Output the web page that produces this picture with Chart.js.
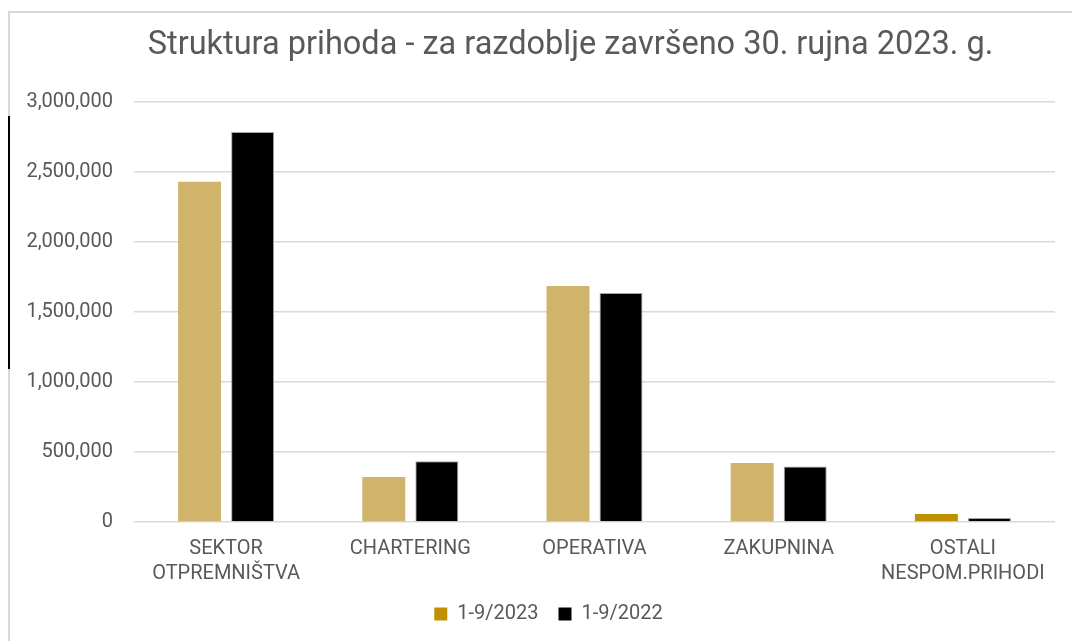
<!DOCTYPE html>
<html>
<head>
<meta charset="utf-8">
<script src="https://cdn.jsdelivr.net/npm/chart.js@4.4.1/dist/chart.umd.min.js"></script>
<style>
    html, body { margin: 0; padding: 0; background: #fff; overflow: hidden; }
    body { width: 1072px; height: 641px; position: relative; }
    #frame {
        position: absolute; left: 8px; top: 11px;
        width: 1100px; height: 700px;
        border-left: 2px solid #d9d9d9; border-top: 2px solid #d9d9d9;
    }
    #cursor { position: absolute; left: 8px; top: 116px; width: 2px; height: 253px; background: #000; }
    #wrap { position: absolute; left: 10px; top: 13px; width: 1062px; height: 628px; }
</style>
</head>
<body>
<div id="frame"></div>
<div id="cursor"></div>
<div id="wrap"><canvas id="chart"></canvas></div>
<script>
const categories = [
    ['SEKTOR', 'OTPREMNIŠTVA'],
    'CHARTERING',
    'OPERATIVA',
    'ZAKUPNINA',
    ['OSTALI', 'NESPOM.PRIHODI']
];
const seriesNames = ['1-9/2023', '1-9/2022'];
const values2023 = [2430000, 321000, 1686000, 421000, 57000];
const values2022 = [2786000, 434000, 1636000, 396000, 29000];
const yTicks = [0, 500000, 1000000, 1500000, 2000000, 2500000, 3000000];

const tan = '#d0b46c';
const gold = '#bf9000';
const legendColors = [gold, '#000000'];
const textColor = '#595959';

// title and legend in the original are not centred on the same axis
const shiftBoxes = {
    id: 'shiftBoxes',
    afterLayout(chart) {
        const move = (box, dx, dy) => {
            if (!box) return;
            box.left += dx; box.right += dx;
            box.top += dy; box.bottom += dy;
        };
        move(chart.titleBlock, 38, 0);
        move(chart.legend, 16, -7);
    }
};

const ctx = document.getElementById('chart').getContext('2d');
new Chart(ctx, {
    type: 'bar',
    data: {
        labels: categories,
        datasets: [{
            label: seriesNames[0],
            data: values2023,
            backgroundColor: values2023.map((v, i) => i === values2023.length - 1 ? gold : tan),
            borderWidth: 0
        }, {
            label: seriesNames[1],
            data: values2022,
            backgroundColor: '#000000',
            borderColor: '#a6a6a6',
            borderWidth: 1
        }]
    },
    plugins: [shiftBoxes],
    options: {
        responsive: true,
        maintainAspectRatio: false,
        animation: false,
        datasets: {
            bar: { categoryPercentage: 0.576, barPercentage: 0.81 }
        },
        layout: { padding: { left: 0, right: 17, top: 0, bottom: 0 } },
        plugins: {
            title: {
                display: true,
                text: 'Struktura prihoda - za razdoblje završeno 30. rujna 2023. g.',
                color: textColor,
                font: { family: 'Roboto', size: 32.5, weight: 'normal', lineHeight: 1.2 },
                padding: { top: 13, bottom: 37 }
            },
            legend: {
                position: 'bottom',
                labels: {
                    color: textColor,
                    font: { family: 'Roboto', size: 20 },
                    boxWidth: 13,
                    boxHeight: 13,
                    padding: 20,
                    generateLabels: chart => {
                        const items = Chart.defaults.plugins.legend.labels.generateLabels(chart);
                        items.forEach((item, i) => {
                            item.fillStyle = legendColors[i];
                            item.strokeStyle = legendColors[i];
                            item.lineWidth = 0;
                        });
                        return items;
                    }
                }
            },
            tooltip: { enabled: false }
        },
        scales: {
            x: {
                grid: { display: false, drawTicks: false },
                border: { display: false },
                afterFit: scale => {
                    scale.height = 69;
                },
                ticks: {
                    color: textColor,
                    font: { family: 'Roboto', size: 20, lineHeight: 1.25 },
                    padding: 14,
                    maxRotation: 0,
                    autoSkip: false
                }
            },
            y: {
                min: 0,
                max: 3000000,
                afterBuildTicks: scale => {
                    scale.ticks = yTicks.map(v => ({ value: v }));
                },
                afterFit: scale => {
                    scale.width = 124;
                },
                grid: { color: '#d9d9d9', lineWidth: 1.5, drawTicks: false },
                border: { display: false },
                ticks: {
                    color: textColor,
                    font: { family: 'Roboto', size: 20 },
                    padding: 21,
                    callback: v => v.toLocaleString('en-US')
                }
            }
        }
    }
});
</script>
</body>
</html>
